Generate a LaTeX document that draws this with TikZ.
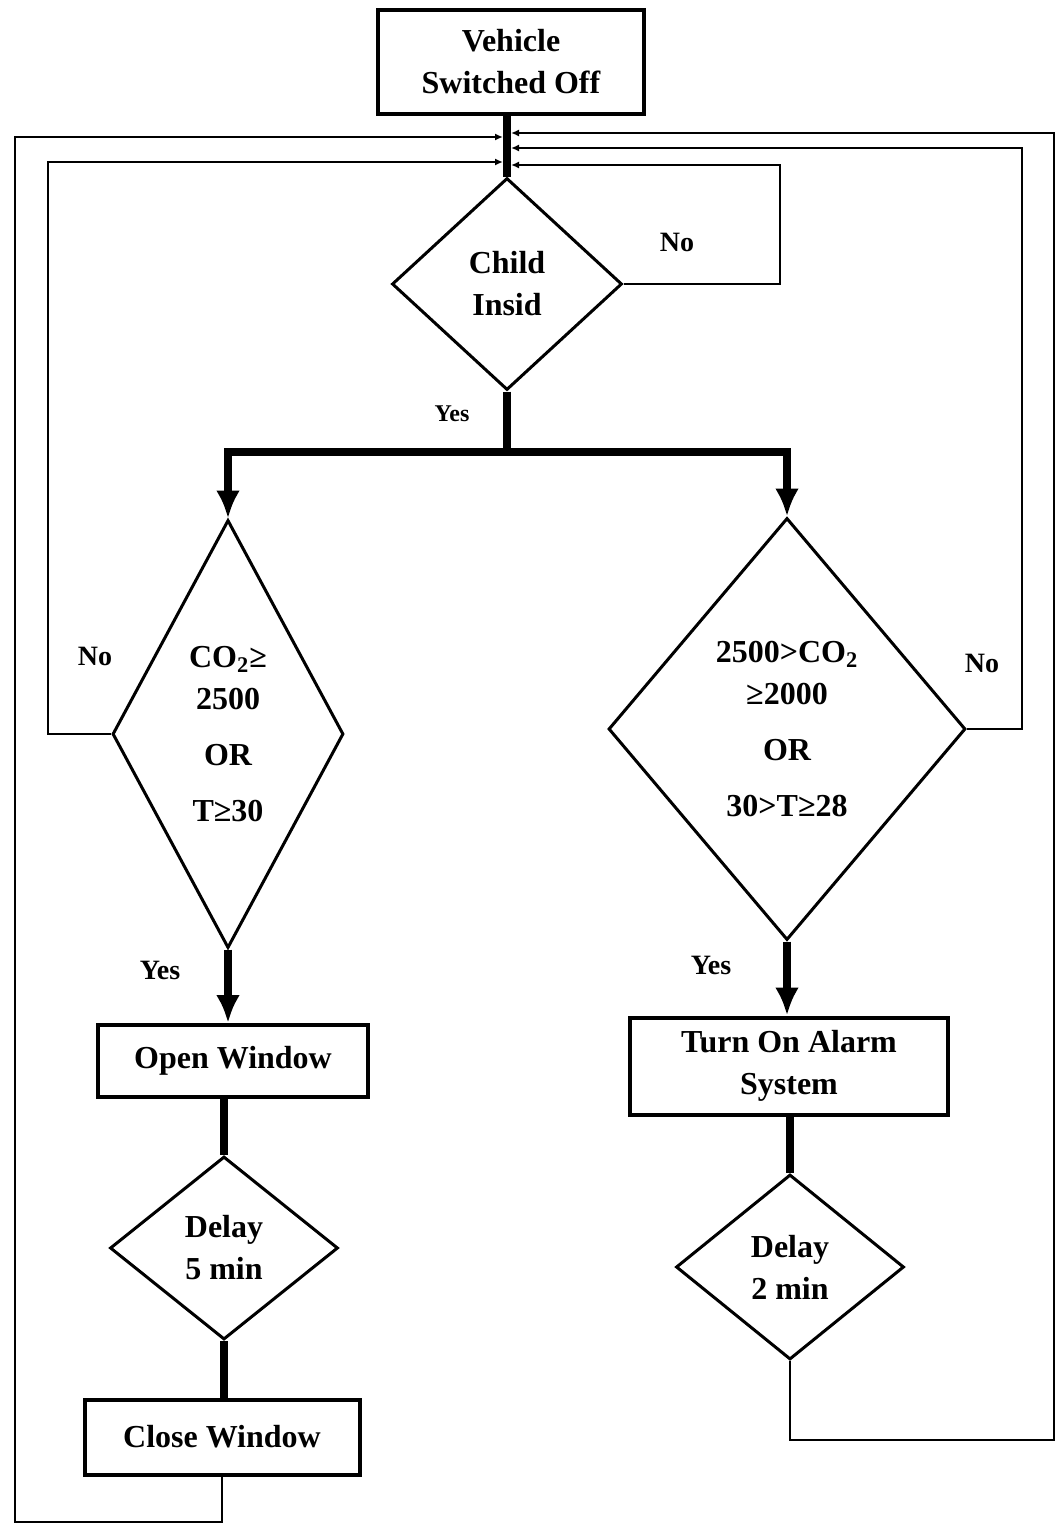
\documentclass[tikz,border=0pt]{standalone}
\usepackage{fontspec}
\setmainfont{Liberation Serif}
\usetikzlibrary{shapes.geometric,arrows.meta}

\begin{document}
\begin{tikzpicture}[>=latex, x=0.5pt, y=-0.5pt,
		box/.style={draw, line width=2pt, rectangle, inner sep=0pt, align=center, font=\bfseries\fontsize{16}{21}\selectfont},
		decision/.style={draw, line width=1.5pt, diamond, inner sep=0pt, align=center, font=\bfseries\fontsize{16}{21}\selectfont},
		flow/.style={line width=4pt},
		flowarrow/.style={line width=4pt, -{Latex[length=14pt,width=12pt]}},
		back/.style={line width=1pt, -{Latex[length=4pt,width=3.5pt]}},
		lbl/.style={font=\bfseries\fontsize{14}{16}\selectfont}]
		%\draw [help lines] (0,0) grid (1056,1525);
		\useasboundingbox (0,0) rectangle (1056,1525);
		
		\node [box, minimum width=133pt, minimum height=52pt] (veh) at (511,62) {Vehicle\\Switched Off};
		\node [decision, shape aspect=1, minimum width=115pt, minimum height=106pt] (child) at (507,284) {Child\\Insid};
		\node [decision, shape aspect=0.4, minimum width=115.5pt, minimum height=214pt] (co2hi) at (228,734) {CO\textsubscript{2}≥\\2500\\[7pt]OR\\[7pt]T≥30};
		\node [decision, shape aspect=0.8, minimum width=178.5pt, minimum height=211pt] (co2mid) at (787,729) {2500>CO\textsubscript{2}\\≥2000\\[7pt]OR\\[7pt]30>T≥28};
		\node [box, minimum width=135pt, minimum height=36pt] (openwin) at (233,1061) {Open Window};
		\node [decision, shape aspect=1, minimum width=114pt, minimum height=91.5pt] (delay5) at (224,1248) {Delay\\5 min};
		\node [box, minimum width=137.5pt, minimum height=37.5pt] (closewin) at (222,1437) {Close Window};
		\node [box, minimum width=159pt, minimum height=48.5pt] (alarm) at (789,1066) {Turn On Alarm\\System};
		\node [decision, shape aspect=1, minimum width=114pt, minimum height=92.5pt] (delay2) at (790,1267) {Delay\\2 min};
		
		% entry points on the trunk
		\coordinate (inL1) at (503,137);
		\coordinate (inL2) at (503,162);
		\coordinate (inR1) at (511,133);
		\coordinate (inR2) at (511,148);
		\coordinate (inR3) at (511,165);
		\coordinate (split) at (507,452);
		
		\draw [flow] (child.north |- veh.south) -- (child.north);
		\draw [flow] (child.south) -- (split);
		\draw [flowarrow] (split) -| (co2hi.north);
		\draw [flowarrow] (split) -| (co2mid.north);
		\draw [flowarrow] (co2hi.south) -- (co2hi.south |- openwin.north);
		\draw [flow] (delay5.north |- openwin.south) -- (delay5.north);
		\draw [flow] (delay5.south) -- (delay5.south |- closewin.north);
		\draw [flowarrow] (co2mid.south) -- (co2mid.south |- alarm.north);
		\draw [flow] (delay2.north |- alarm.south) -- (delay2.north);
		
		\draw [back] (child.east) -| (780,165) -- (inR3);
		\draw [back] (co2hi.west) -| (48,162) -- (inL2);
		\draw [back] (co2mid.east) -| (1022,148) -- (inR2);
		\draw [back] (closewin.south) |- (15,1522) -- (15,137) -- (inL1);
		\draw [back] (delay2.south) |- (1054,1440) -- (1054,133) -- (inR1);
		
		\node [lbl] (nochild) at (677,242) {No};
		\node [lbl, font=\bfseries\fontsize{12}{14}\selectfont] (yeschild) at (452,414) {Yes};
		\node [lbl] (nohi) at (95,656) {No};
		\node [lbl] (yeshi) at (160,970) {Yes};
		\node [lbl] (nomid) at (982,663) {No};
		\node [lbl] (yesmid) at (711,965) {Yes};
	\end{tikzpicture}
\end{document}
